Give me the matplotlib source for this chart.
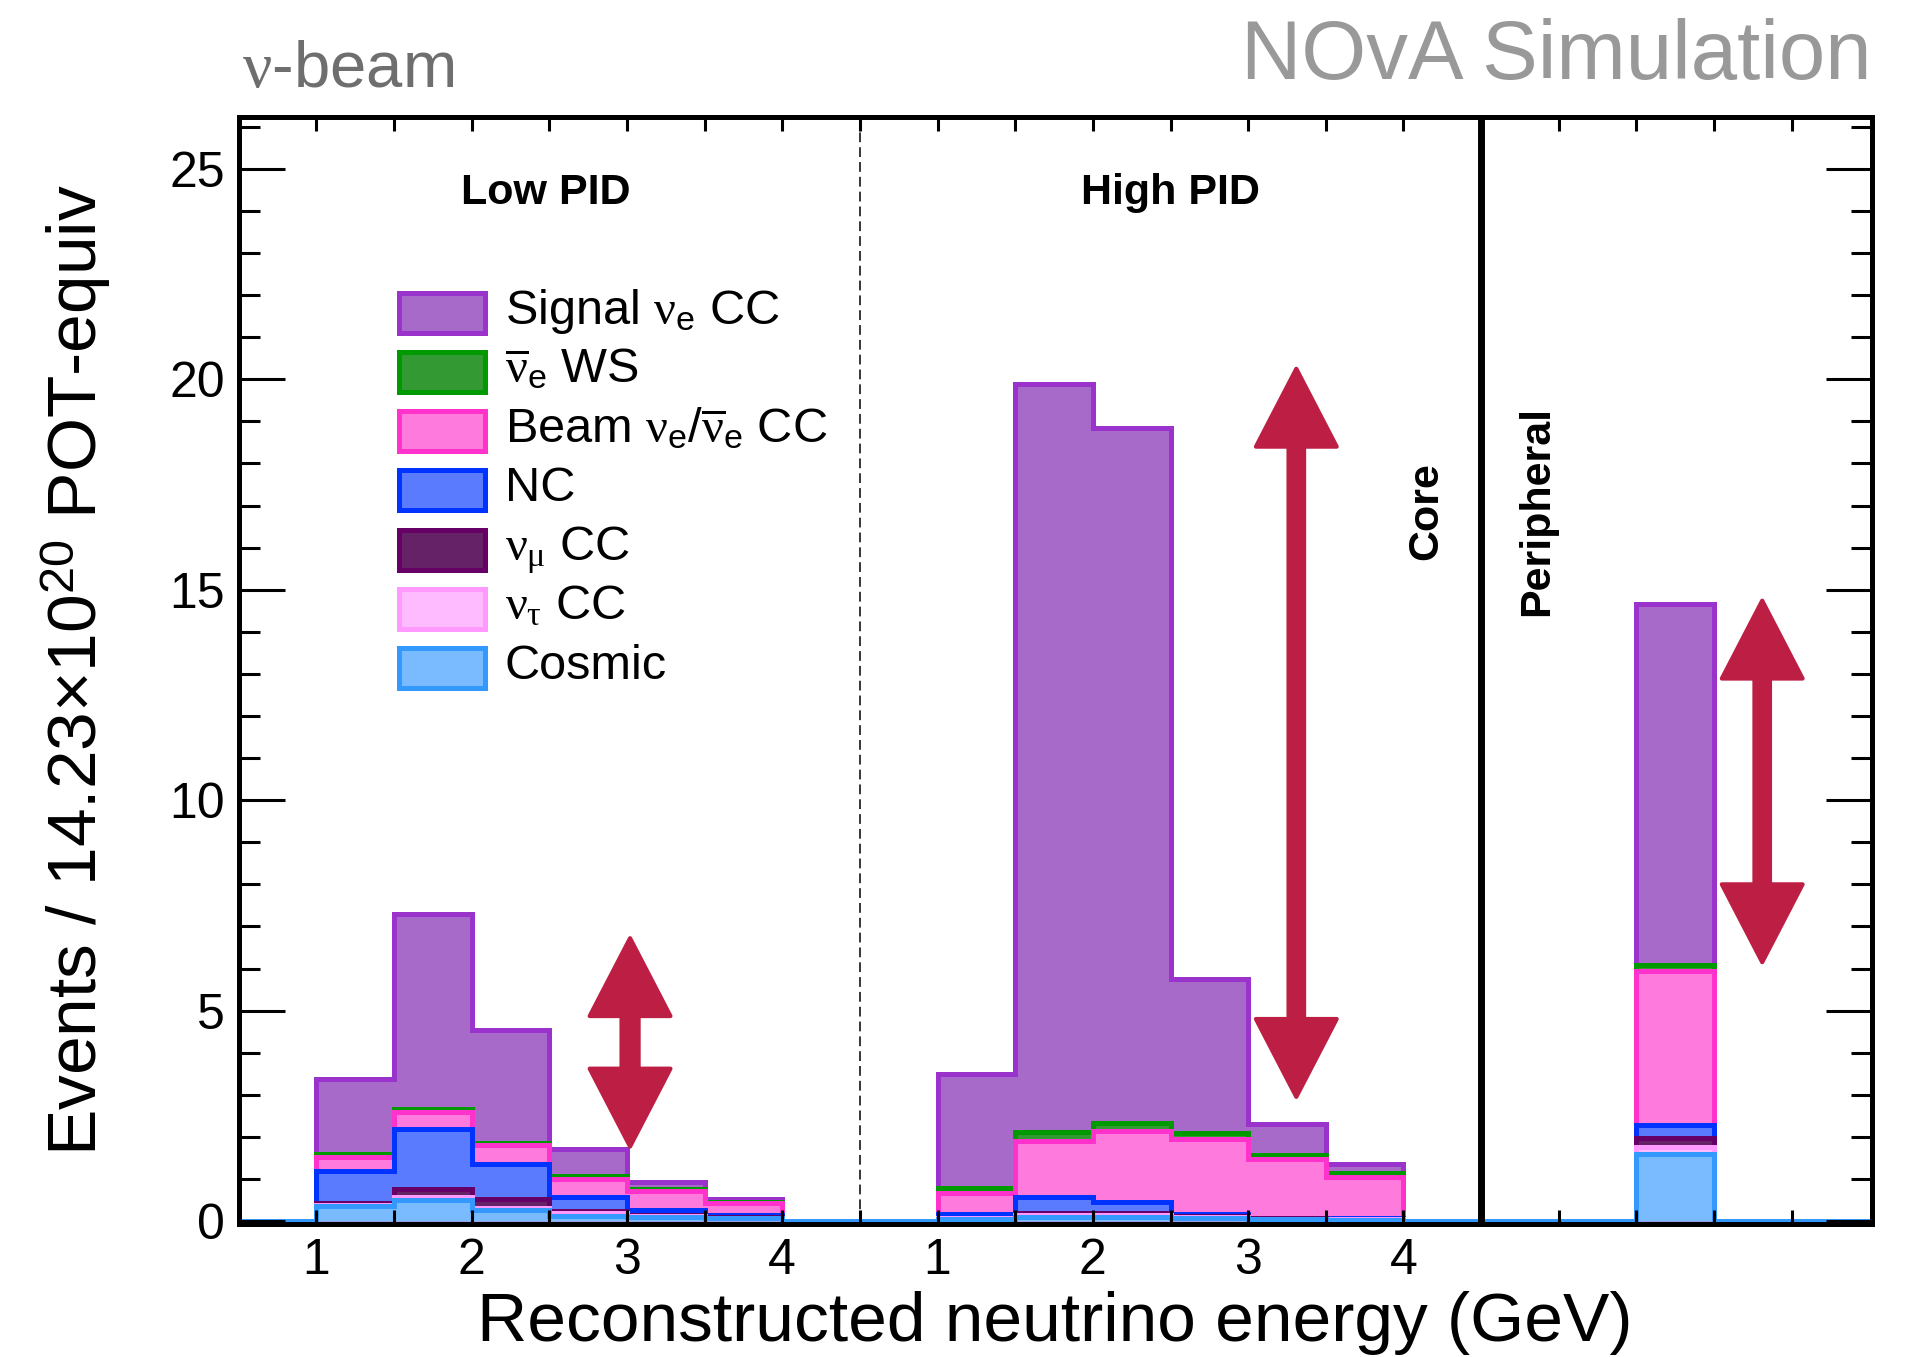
import numpy as np
import matplotlib
matplotlib.use("Agg")
import matplotlib.pyplot as plt
from matplotlib.patches import Rectangle, Polygon
from matplotlib.ticker import FixedLocator, MultipleLocator

plt.rcParams['font.family'] = ['Liberation Sans', 'DejaVu Sans']
plt.rcParams['mathtext.fontset'] = 'custom'
plt.rcParams['mathtext.rm'] = 'Liberation Sans'
plt.rcParams['mathtext.it'] = 'Liberation Serif'
plt.rcParams['mathtext.bf'] = 'Liberation Sans:bold'

# ---------------------------------------------------------------------------
# Data: predicted events per reconstructed-energy bin (GeV)
# ---------------------------------------------------------------------------
energy_edges = [1.0, 1.5, 2.0, 2.5, 3.0, 3.5, 4.0]

low_cosmic = [0.35, 0.50, 0.25, 0.13, 0.10, 0.06]
low_nutau = [0.03, 0.07, 0.05, 0.05, 0.02, 0.02]
low_numu = [0.04, 0.18, 0.22, 0.06, 0.02, 0.02]
low_nc = [0.76, 1.43, 0.83, 0.34, 0.11, 0.04]
low_beam = [0.34, 0.40, 0.45, 0.42, 0.46, 0.29]
low_ws = [0.08, 0.08, 0.06, 0.07, 0.06, 0.03]
low_signal = [1.78, 4.64, 2.69, 0.65, 0.15, 0.07]

high_cosmic = [0.05, 0.10, 0.10, 0.08, 0.04, 0.03]
high_nutau = [0.01, 0.05, 0.05, 0.02, 0.01, 0.01]
high_numu = [0.02, 0.05, 0.05, 0.02, 0.01, 0.01]
high_nc = [0.09, 0.37, 0.24, 0.05, 0.02, 0.01]
high_beam = [0.50, 1.34, 1.71, 1.78, 1.40, 0.98]
high_ws = [0.11, 0.20, 0.18, 0.13, 0.09, 0.09]
high_signal = [2.72, 17.79, 16.52, 3.67, 0.73, 0.22]

periph_cosmic = 1.60
periph_nutau = 0.15
periph_numu = 0.23
periph_nc = 0.29
periph_beam = 3.66
periph_ws = 0.15
periph_signal = 8.57

component_labels = [
    r"Signal $\nu_\mathrm{e}$ CC",
    r"$\overline{\nu}_\mathrm{e}$ WS",
    r"Beam $\nu_\mathrm{e}/\overline{\nu}_\mathrm{e}$ CC",
    "NC",
    r"$\nu_\mu$ CC",
    r"$\nu_\tau$ CC",
    "Cosmic",
]
tick_text = ["1", "2", "3", "4"]

# Range arrows: horizontal position, lower tip, upper tip
arrow_x = [2.52, 6.81, 9.81]
arrow_lo = [1.77, 2.95, 6.15]
arrow_hi = [6.72, 20.25, 14.74]

# ---------------------------------------------------------------------------
# Styles
# ---------------------------------------------------------------------------
fills = ['#A86AC9', '#339933', '#FF7ADD', '#5B7BFF', '#662266', '#FFBBFF', '#7ABBFF']
edges_c = ['#9933CC', '#009900', '#FF33CC', '#0033FF', '#660066', '#FF99FF', '#3399FF']
ARROW_COLOR = '#BD1E43'
HIST_LW = 3.6

# Layout of the combined axis: Low PID occupies [0, 4], High PID [4, 8],
# peripheral sample [8, XMAX]; each energy sample is shifted onto it.
LOW_SHIFT = -0.5
HIGH_SHIFT = 3.5
PERIPH_X = 9.0
BIN_W = 0.5
XMAX = 10.515
YMIN, YMAX = -0.071, 26.24

fig = plt.figure(figsize=(19.15, 13.57), dpi=100)
ax = fig.add_axes([0.12465, 0.09801, 0.97739 - 0.12465, 0.91400 - 0.09801])

grid = np.arange(0.0, 10.5 + 1e-9, BIN_W)
grid[-1] = XMAX
nbins = len(grid) - 1


def place(vals_low, vals_high, val_periph):
    out = np.zeros(nbins)
    for i, e in enumerate(energy_edges[:-1]):
        out[int(round((e + LOW_SHIFT) / BIN_W))] += vals_low[i]
        out[int(round((e + HIGH_SHIFT) / BIN_W))] += vals_high[i]
    out[int(round(PERIPH_X / BIN_W))] += val_periph
    return out


# Stack order from bottom to top
stack = [
    place(low_cosmic, high_cosmic, periph_cosmic),
    place(low_nutau, high_nutau, periph_nutau),
    place(low_numu, high_numu, periph_numu),
    place(low_nc, high_nc, periph_nc),
    place(low_beam, high_beam, periph_beam),
    place(low_ws, high_ws, periph_ws),
    place(low_signal, high_signal, periph_signal),
]
cum = np.cumsum(np.array(stack), axis=0)
# legend / colour order is top-of-stack first
order_top_first = list(range(len(stack)))[::-1]

for k, idx in enumerate(order_top_first):
    ax.stairs(cum[idx], grid, baseline=0, fill=True,
              facecolor=fills[k], edgecolor=edges_c[k],
              linewidth=HIST_LW, zorder=1 + 0.1 * k)

# Sample separators
ax.axvline(4.0, color='black', lw=1.1, ls=(0, (6.4, 3.3)), zorder=3)
ax.axvline(8.0, color='black', lw=5, zorder=3)

# Double-headed range arrows
HEAD_W, HEAD_L = 0.52, 1.85
SHAFT_W = [0.11, 0.10, 0.10]
for x, lo, hi, sw in zip(arrow_x, arrow_lo, arrow_hi, SHAFT_W):
    pts = [
        (x, hi), (x + HEAD_W / 2, hi - HEAD_L), (x + sw / 2, hi - HEAD_L),
        (x + sw / 2, lo + HEAD_L), (x + HEAD_W / 2, lo + HEAD_L), (x, lo),
        (x - HEAD_W / 2, lo + HEAD_L), (x - sw / 2, lo + HEAD_L),
        (x - sw / 2, hi - HEAD_L), (x - HEAD_W / 2, hi - HEAD_L),
    ]
    ax.add_patch(Polygon(pts, closed=True, facecolor=ARROW_COLOR,
                         edgecolor=ARROW_COLOR, lw=3, joinstyle='round', zorder=5))

# Axes, ticks
ax.set_xlim(0, XMAX)
ax.set_ylim(YMIN, YMAX)
for sp in ax.spines.values():
    sp.set_linewidth(3.6)
    sp.set_zorder(6)
ax.set_axisbelow(False)

xt = np.arange(0.5, 10.0 + 1e-9, 0.5)
xlabels = [""] * len(xt)
for j, t in enumerate(xt):
    for shift in (LOW_SHIFT, HIGH_SHIFT):
        for lab in tick_text:
            if abs(t - (float(lab) + shift)) < 1e-6:
                xlabels[j] = lab
ax.xaxis.set_major_locator(FixedLocator(xt))
ax.set_xticklabels(xlabels)
ax.yaxis.set_major_locator(MultipleLocator(5))
ax.yaxis.set_minor_locator(MultipleLocator(1))
ax.tick_params(axis='x', which='major', direction='in', length=10, width=2.2,
               top=True, bottom=True, labelsize=36, pad=10)
ax.tick_params(axis='y', which='major', direction='in', length=33, width=2.2,
               left=True, right=True, labelsize=36, pad=10)
ax.tick_params(axis='y', which='minor', direction='in', length=15, width=2.2,
               left=True, right=True)

ax.set_xlabel("")
ax.set_ylabel("")
fig.text(0.5509, 0.0118, "Reconstructed neutrino energy (GeV)", fontsize=50,
         ha='center', va='baseline')
fig.text(0.0397, 0.5063, r"Events / 14.23×10$^{20}$ POT-equiv", fontsize=50,
         rotation=90, ha='center', va='center')

# Header texts
fig.text(0.1262, 0.9361, r"$\nu$-beam", fontsize=47, color='#6E6E6E',
         ha='left', va='baseline')
fig.text(0.9774, 0.9415, "NOvA Simulation", fontsize=60, color='#999999',
         ha='right', va='baseline')

# Sample labels
ax.text(1.98, 24.17, "Low PID", fontsize=31, fontweight='bold', ha='center', va='baseline')
ax.text(6.0, 24.17, "High PID", fontsize=31, fontweight='bold', ha='center', va='baseline')
ax.text(7.72, 16.86, "Core", fontsize=31, fontweight='bold', rotation=90,
        rotation_mode='anchor', ha='center', va='baseline')
ax.text(8.43, 16.88, "Peripheral", fontsize=31, fontweight='bold', rotation=90,
        rotation_mode='anchor', ha='center', va='baseline')

# Legend (figure pixel layout converted to figure fractions)
W, H = 1915.0, 1357.0
box_x0, box_w, box_h = 399.5, 85.0, 40.0
row0, row_step = 312.5, 59.25
for k, lab in enumerate(component_labels):
    yc = row0 + k * row_step
    fig.add_artist(Rectangle((box_x0 / W, 1 - (yc + box_h / 2) / H), box_w / W, box_h / H,
                             transform=fig.transFigure, facecolor=fills[k],
                             edgecolor=edges_c[k], lw=HIST_LW, zorder=7))
    fig.text(505 / W, 1 - (yc + 11) / H, lab, fontsize=35, ha='left', va='baseline',
             zorder=7)

fig.savefig("out.png", dpi=100)
